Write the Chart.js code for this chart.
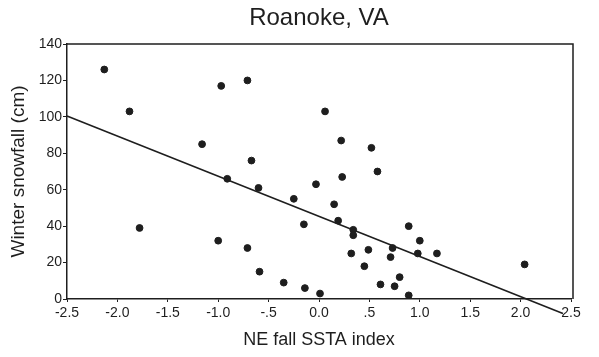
<!DOCTYPE html>
<html>
<head>
<meta charset="utf-8">
<script src="https://cdn.jsdelivr.net/npm/chart.js@4/dist/chart.umd.min.js"></script>
<style>
  html, body { margin: 0; padding: 0; background: #fff; }
  canvas { display: block; }
</style>
</head>
<body>
<canvas id="c" width="599" height="357"></canvas>
<script>
// Data
const sstaIndex = [-2.13, -1.88, -1.78, -1.16, -1.0, -0.97, -0.91, -0.71, -0.71, -0.67, -0.60, -0.59, -0.35, -0.25, -0.15, -0.14, -0.03, 0.01, 0.06, 0.15, 0.19, 0.22, 0.23, 0.32, 0.34, 0.34, 0.45, 0.49, 0.52, 0.58, 0.61, 0.71, 0.73, 0.75, 0.80, 0.89, 0.89, 0.98, 1.0, 1.17, 2.04];
const snowfall  = [126, 103, 39, 85, 32, 117, 66, 120, 28, 76, 61, 15, 9, 55, 41, 6, 63, 3, 103, 52, 43, 87, 67, 25, 38, 35, 18, 27, 83, 70, 8, 23, 28, 7, 12, 40, 2, 25, 32, 25, 19];
const fitX = [-2.5, 2.42];
const fitY = [100.5, -8];
const xTickValues = [-2.5, -2.0, -1.5, -1.0, -0.5, 0.0, 0.5, 1.0, 1.5, 2.0, 2.5];
const xTickLabels = ['-2.5', '-2.0', '-1.5', '-1.0', '-.5', '0.0', '.5', '1.0', '1.5', '2.0', '2.5'];
const yTickLabels = ['0', '20', '40', '60', '80', '100', '120', '140'];

const INK = '#1e1e1e';
const FONT = "'Liberation Sans', Arial, sans-serif";

const framePlugin = {
  id: 'frame',
  afterDatasetsDraw(chart) {
    const { ctx, chartArea: a } = chart;
    ctx.save();
    ctx.strokeStyle = INK;
    ctx.lineWidth = 1.5;
    ctx.beginPath();
    ctx.moveTo(a.left, a.top);
    ctx.lineTo(a.right + 2, a.top);
    ctx.lineTo(a.right + 2, a.bottom);
    ctx.stroke();
    ctx.restore();
  }
};

new Chart(document.getElementById('c'), {
  type: 'scatter',
  data: {
    datasets: [
      {
        label: 'Years',
        data: sstaIndex.map((x, i) => ({ x, y: snowfall[i] })),
        backgroundColor: INK,
        borderColor: INK,
        pointRadius: 3.4,
        pointHoverRadius: 3.4
      },
      {
        label: 'Fit',
        type: 'line',
        data: fitX.map((x, i) => ({ x, y: fitY[i] })),
        borderColor: INK,
        borderWidth: 1.6,
        pointRadius: 0,
        fill: false,
        clip: false
      }
    ]
  },
  plugins: [framePlugin],
  options: {
    responsive: false,
    animation: false,
    events: [],
    layout: { padding: { left: 0, right: 28, top: 0, bottom: 0 } },
    plugins: {
      legend: { display: false },
      tooltip: { enabled: false },
      title: {
        display: true,
        fullSize: false,
        text: 'Roanoke, VA',
        color: INK,
        font: { family: FONT, size: 24, weight: 'normal', lineHeight: 1.2 },
        padding: { top: 4, bottom: 11.2 }
      }
    },
    scales: {
      x: {
        type: 'linear',
        min: -2.5,
        max: 2.5,
        afterFit: s => { s.height = 58; },
        afterBuildTicks: s => { s.ticks = xTickValues.map(v => ({ value: v })); },
        ticks: {
          color: INK,
          font: { family: FONT, size: 14 },
          padding: 3,
          maxRotation: 0,
          autoSkip: false,
          callback: (v) => {
            const i = xTickValues.findIndex(t => Math.abs(t - v) < 1e-9);
            return i >= 0 ? xTickLabels[i] : '';
          }
        },
        grid: { drawOnChartArea: false, drawTicks: true, tickLength: 3, color: INK },
        border: { display: true, color: INK, width: 1.5 },
        title: {
          display: true,
          text: 'NE fall SSTA index',
          color: INK,
          font: { family: FONT, size: 18, lineHeight: 1.2 },
          padding: { top: 2, bottom: 6 }
        }
      },
      y: {
        type: 'linear',
        min: 0,
        max: 140,
        afterFit: s => { s.width = 67; },
        ticks: {
          stepSize: 20,
          color: INK,
          font: { family: FONT, size: 14 },
          padding: 1,
          callback: (v) => yTickLabels[Math.round(v / 20)] ?? ''
        },
        grid: { drawOnChartArea: false, drawTicks: true, tickLength: 4, color: INK },
        border: { display: true, color: INK, width: 1.5 },
        title: {
          display: true,
          text: 'Winter snowfall (cm)',
          color: INK,
          font: { family: FONT, size: 19, lineHeight: 1.2 },
          padding: { top: 7, bottom: 0 }
        }
      }
    }
  }
});
</script>
</body>
</html>
